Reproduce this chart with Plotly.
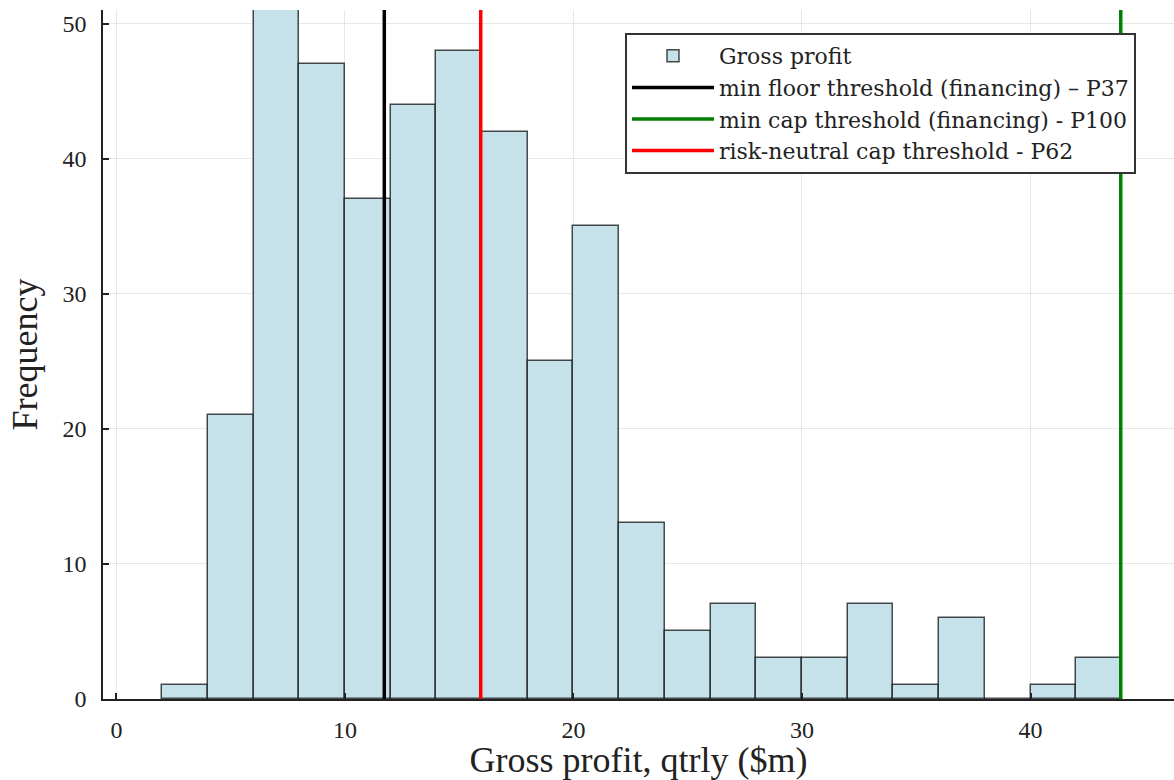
import plotly.graph_objects as go

# ---- data ----
bin_left = [2, 4, 6, 8, 10, 12, 14, 16, 18, 20, 22, 24, 26, 28, 30, 32, 34, 36, 38, 40, 42]
counts = [1, 21, 51, 47, 37, 44, 48, 42, 25, 35, 13, 5, 7, 3, 3, 7, 1, 6, 0, 1, 3]
bin_width = 2

line_names = ["min floor threshold (financing) – P37",
              "min cap threshold (financing) - P100",
              "risk-neutral cap threshold - P62"]
line_values = [11.72, 43.95, 15.94]
line_colors = ["#000000", "#008000", "#ff0000"]

x_ticks = [0, 10, 20, 30, 40]
y_ticks = [0, 10, 20, 30, 40, 50]
x_range = [-0.59, 46.28]
y_range = [0, 51]

fig = go.Figure()
fig.add_trace(go.Bar(
    x=bin_left, y=counts, width=bin_width, offset=0,
    name="Gross profit",
    marker=dict(color="rgb(197,226,234)",
                line=dict(color="rgba(0,0,0,0.7)", width=1.5)),
))
for name, v, c in zip(line_names, line_values, line_colors):
    fig.add_trace(go.Scatter(
        x=[v, v], y=y_range, mode="lines", name=name,
        line=dict(color=c, width=3.5),
    ))

tick_font = dict(family="Liberation Serif", size=24, color="#222")
title_font = dict(family="Liberation Serif", size=36, color="#222")

fig.update_layout(
    width=1174, height=780,
    margin=dict(l=103, r=0, t=10, b=81),
    paper_bgcolor="white", plot_bgcolor="white",
    bargap=0,
    showlegend=True,
    legend=dict(
        x=0.4874, y=0.9666, xanchor="left", yanchor="top",
        bgcolor="white", bordercolor="#333", borderwidth=2,
        font=dict(family="DejaVu Serif", size=22, color="#222"),
        itemwidth=82, traceorder="normal", tracegroupgap=0,
    ),
    xaxis=dict(
        range=x_range, tickvals=x_ticks, ticks="inside", ticklen=6,
        tickcolor="#222", tickwidth=1.5,
        showline=True, linecolor="#222", linewidth=1.5,
        showgrid=True, gridcolor="rgba(0,0,0,0.09)", gridwidth=1,
        zeroline=False, tickfont=tick_font, ticklabelstandoff=8,
        title=dict(text="Gross profit, qtrly ($m)", font=title_font, standoff=6),
    ),
    yaxis=dict(
        range=y_range, tickvals=y_ticks, ticks="inside", ticklen=6,
        tickcolor="#222", tickwidth=1.5,
        showline=True, linecolor="#222", linewidth=1.5,
        showgrid=True, gridcolor="rgba(0,0,0,0.09)", gridwidth=1,
        zeroline=False, tickfont=tick_font, ticklabelstandoff=10,
        title=dict(text="Frequency", font=title_font, standoff=14),
    ),
)

fig.write_html("out.html")
